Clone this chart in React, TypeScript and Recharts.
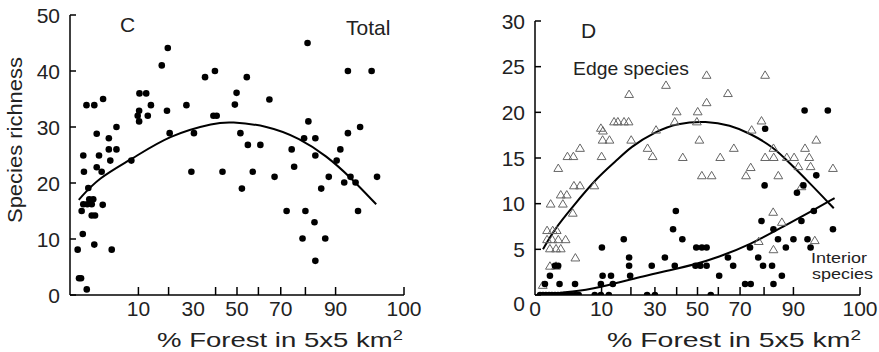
import React from "react";
import { ComposedChart, XAxis, YAxis, Scatter, Line } from "recharts";

// ---- data (x = % forest in 5x5 km2, y = species richness) ----
const totalPoints: [number, number][] = [
  [0.13, 8.1], [0.18, 3.0], [0.27, 3.0], [0.62, 1.0], [0.36, 10.9], [0.3, 15.0], [1.3, 9.0], [3.8, 8.1],
  [0.39, 16.2], [0.66, 16.2], [0.82, 17.1], [1.04, 16.2], [1.19, 17.1], [1.04, 14.2], [1.38, 14.2], [2.35, 16.1],
  [0.74, 19.1], [0.43, 22.0], [1.57, 22.8], [2.2, 22.0], [0.39, 24.9], [1.85, 24.9], [3.3, 26.0], [4.7, 26.0],
  [3.55, 24.0], [8.1, 24.0], [1.57, 28.8], [3.3, 28.0], [4.7, 30.0], [0.6, 33.9], [1.3, 33.9], [2.4, 35.0],
  [10.3, 36.0], [12.3, 36.0], [13.8, 33.9], [10.2, 32.9], [9.8, 32.0], [12.8, 32.0], [10.2, 31.0], [19.4, 32.9],
  [20.4, 28.9], [17.5, 41.0], [19.7, 44.1], [27.1, 33.9], [29.2, 22.0], [30.3, 28.9], [35.2, 38.9], [39.7, 40.0],
  [39.0, 32.0], [40.5, 32.0], [43.2, 22.0], [49.0, 34.0], [49.8, 36.1], [51.6, 28.9], [52.3, 19.0], [54.6, 38.9],
  [55.1, 26.8], [57.4, 22.0], [60.9, 26.8], [65.0, 34.9], [67.3, 21.1], [72.5, 15.0], [74.6, 26.0], [75.6, 22.9],
  [78.9, 10.1], [79.5, 28.0], [80.0, 15.0], [80.8, 45.0], [81.1, 31.0], [83.3, 13.0], [83.6, 28.0], [83.6, 24.9],
  [83.6, 6.1], [85.6, 19.0], [86.9, 10.1], [88.0, 21.1], [90.3, 24.0], [91.3, 26.0], [92.3, 20.1], [93.2, 28.9],
  [93.2, 40.0], [93.8, 21.1], [94.9, 20.1], [95.4, 15.0], [95.8, 30.0], [97.7, 40.0], [98.4, 21.1],
];
const totalCurve: [number, number][] = [
  [0.17, 17.0], [1.76, 20.9], [8.1, 24.2], [20.4, 28.6], [40.3, 30.8], [46.6, 30.9], [63.9, 30.3],
  [77.9, 28.0], [87.4, 24.8], [93.7, 21.1], [98.3, 16.2],
];

const edgePoints: [number, number][] = [
  [0.14, 1.1], [0.52, 3.2], [1.03, 3.2], [3.76, 4.1], [0.52, 5.1], [1.03, 5.1], [1.54, 5.1], [0.34, 6.1],
  [0.7, 6.1], [1.26, 6.1], [2.17, 6.1], [0.34, 7.1], [0.73, 7.1], [1.1, 7.1], [3.3, 9.0], [0.57, 10.0],
  [1.8, 10.0], [1.54, 11.0], [2.34, 11.0], [3.5, 12.0], [4.66, 12.0], [8.0, 12.0], [1.26, 13.9], [2.44, 15.2],
  [3.4, 15.2], [10.0, 15.2], [4.66, 16.1], [26.8, 16.1], [29.0, 15.2], [10.3, 17.0], [12.4, 17.0], [20.1, 17.0],
  [9.8, 18.3], [10.4, 18.0], [30.5, 18.1], [13.9, 19.0], [15.2, 19.0], [17.4, 19.0], [19.1, 19.0], [19.3, 22.0],
  [35.0, 23.0], [54.4, 24.1], [80.4, 24.1], [64.5, 22.1], [54.4, 21.1], [40.0, 20.1], [50.1, 20.1], [39.1, 19.0],
  [49.7, 19.0], [75.0, 18.1], [79.0, 19.1], [50.9, 17.0], [67.2, 16.1], [42.9, 15.1], [60.9, 15.1], [74.6, 14.0],
  [52.1, 13.1], [56.8, 13.1], [72.6, 13.1], [85.2, 13.1], [95.6, 17.0], [93.1, 16.1], [83.5, 16.1], [80.4, 15.1],
  [83.6, 15.1], [88.0, 15.1], [90.2, 15.1], [94.1, 15.1], [91.4, 14.1], [94.4, 14.1], [98.3, 13.9], [92.2, 11.9],
  [83.4, 9.1], [86.4, 8.0], [77.9, 5.9], [95.3, 6.0], [83.5, 5.0],
];
const edgeCurve: [number, number][] = [
  [0.15, 5.0], [0.93, 7.3], [3.2, 9.6], [8.8, 12.9], [15.1, 14.8], [19.7, 16.2], [30.5, 17.9], [40.0, 18.8],
  [54.4, 19.05], [65.5, 18.6], [74.3, 17.7], [83.5, 16.2], [89.0, 14.4], [93.5, 12.6], [98.4, 9.5],
];

const interiorPoints: [number, number][] = [
  [0.06, 0], [0.15, 0], [0.28, 0], [0.46, 0], [0.67, 0], [0.93, 0], [1.23, 0], [1.57, 0], [1.95, 0], [2.37, 0],
  [3.0, 0], [3.7, 0], [4.4, 0], [8.1, 0], [9.8, 0], [12.2, 0], [26.6, 0], [30.0, 0], [56.4, 0],
  [0.23, 1.2], [1.4, 1.2], [3.7, 1.2], [9.8, 1.2], [13.5, 1.2], [72.2, 1.2], [74.6, 1.2], [83.5, 1.2],
  [0.52, 2.1], [10.3, 2.1], [12.9, 2.1], [19.7, 2.1], [60.4, 2.1], [86.4, 2.1],
  [0.93, 3.2], [1.25, 3.2], [19.3, 3.2], [28.6, 3.2], [39.1, 3.2], [49.0, 3.2], [51.4, 3.2], [54.4, 3.2],
  [66.9, 3.2], [79.6, 3.2], [83.0, 3.2],
  [19.3, 4.1], [34.5, 4.1], [64.5, 4.1], [77.7, 4.1],
  [10.1, 5.2], [49.4, 5.2], [52.1, 5.2], [54.4, 5.2], [74.3, 5.2], [87.7, 5.2], [94.4, 5.2],
  [17.3, 6.1], [42.7, 6.1], [85.1, 6.1], [90.0, 6.1], [93.7, 6.1],
  [38.3, 7.2], [83.5, 7.2], [98.3, 7.2],
  [79.0, 8.1], [92.2, 8.1], [39.6, 9.2], [95.1, 9.2], [91.0, 11.2], [80.2, 12.0], [92.7, 12.0],
  [95.6, 13.1], [80.4, 18.2], [93.0, 20.2], [97.6, 20.2],
];
const interiorCurve: [number, number][] = [
  [0.1, 0.05], [4.66, 0.4], [12.6, 1.1], [25.5, 2.1], [36.6, 2.7], [49.5, 3.4], [59.5, 4.1], [74.3, 5.5],
  [86.9, 7.5], [94.3, 9.1], [98.5, 10.6],
];

const leftXTicks = [10, 20, 30, 40, 50, 60, 70, 80, 90, 100];
const leftXNoTickLine = [30];
const rightXTicks = [0, 10, 20, 30, 40, 50, 60, 70, 80, 90, 100];
const rightXNoTickLine = [0];
const xTickLabels = [0, 10, 30, 50, 70, 90, 100];
const leftYTicks = [0, 10, 20, 30, 40, 50];
const rightYTicks = [0, 5, 10, 15, 20, 25, 30];

// ---- arcsine-square-root axis transform ----
const toAxis = (p: number) => Math.asin(Math.sqrt(Math.max(0, Math.min(100, p)) / 100));
const fromAxis = (v: number) => Math.round(Math.pow(Math.sin(v), 2) * 100);
const rows = (pts: [number, number][]) => pts.map(([p, v]) => ({ x: toAxis(p), y: v }));
const HALF_PI = Math.PI / 2;

const FONT = "'Liberation Sans', Arial, sans-serif";
const TXT = "#222";

const makeXTick = (noLine: number[]) => (props: any) => {
  const { x, y, payload } = props;
  const pct = fromAxis(payload.value);
  return (
    <g>
      {!noLine.includes(pct) && <line x1={x} x2={x} y1={y} y2={y - 8} stroke="#000" strokeWidth={1.5} />}
      {xTickLabels.includes(pct) && (
        <text x={x} y={y + 21} textAnchor="middle" fontSize={21} fontFamily={FONT} fill={TXT}>
          {pct}
        </text>
      )}
    </g>
  );
};

const makeYTick = (zeroShift: number) => (props: any) => {
  const { x, y, payload } = props;
  const shift = payload.value === 0 ? zeroShift : 0;
  return (
    <g>
      <line x1={x} x2={x + 6} y1={y} y2={y} stroke="#000" strokeWidth={1.5} />
      <text x={x - 10} y={y + 7.5 + shift} textAnchor="end" fontSize={21} fontFamily={FONT} fill={TXT}>
        {payload.value}
      </text>
    </g>
  );
};

const dot = (p: any) => <circle cx={p.cx} cy={p.cy} r={3.3} fill="#000" />;
const tri = (p: any) => (
  <polygon
    points={`${p.cx},${p.cy - 4} ${p.cx - 4.4},${p.cy + 3.4} ${p.cx + 4.4},${p.cy + 3.4}`}
    fill="none"
    stroke="#666"
    strokeWidth={1}
  />
);

export default function App() {
  return (
    <div style={{ position: "absolute", left: 0, top: 0, width: 879, height: 352, background: "#fff" }}>
      <div style={{ position: "absolute", left: 0, top: 0 }}>
        <ComposedChart width={430} height={352} margin={{ top: 15, right: 26, bottom: 27, left: 30 }}>
          <XAxis
            type="number"
            dataKey="x"
            domain={[0, HALF_PI]}
            ticks={leftXTicks.map(toAxis)}
            interval={0}
            height={30}
            axisLine={{ stroke: "#000", strokeWidth: 1.5 }}
            tickLine={false}
            tickSize={0}
            tickMargin={0}
            tick={makeXTick(leftXNoTickLine)}
            allowDataOverflow
          />
          <YAxis
            type="number"
            domain={[0, 50]}
            ticks={leftYTicks}
            interval={0}
            width={40}
            axisLine={{ stroke: "#000", strokeWidth: 1.5 }}
            tickLine={false}
            tickSize={0}
            tickMargin={0}
            tick={makeYTick(0)}
            allowDataOverflow
          />
          <Scatter data={rows(totalPoints)} dataKey="y" shape={dot} isAnimationActive={false} />
          <Line data={rows(totalCurve)} dataKey="y" type="basis" stroke="#000" strokeWidth={2} dot={false} isAnimationActive={false} />
        </ComposedChart>
      </div>
      <div style={{ position: "absolute", left: 440, top: 0 }}>
        <ComposedChart width={439} height={352} margin={{ top: 21, right: 19, bottom: 27, left: 55 }}>
          <XAxis
            type="number"
            dataKey="x"
            domain={[0, HALF_PI]}
            ticks={rightXTicks.map(toAxis)}
            interval={0}
            height={30}
            axisLine={{ stroke: "#000", strokeWidth: 1.5 }}
            tickLine={false}
            tickSize={0}
            tickMargin={0}
            tick={makeXTick(rightXNoTickLine)}
            allowDataOverflow
          />
          <YAxis
            type="number"
            domain={[0, 30]}
            ticks={rightYTicks}
            interval={0}
            width={40}
            axisLine={{ stroke: "#000", strokeWidth: 1.5 }}
            tickLine={false}
            tickSize={0}
            tickMargin={0}
            tick={makeYTick(8)}
            allowDataOverflow
          />
          <Scatter data={rows(edgePoints)} dataKey="y" shape={tri} isAnimationActive={false} />
          <Scatter data={rows(interiorPoints)} dataKey="y" shape={dot} isAnimationActive={false} />
          <Line data={rows(edgeCurve)} dataKey="y" type="basis" stroke="#000" strokeWidth={2} dot={false} isAnimationActive={false} />
          <Line data={rows(interiorCurve)} dataKey="y" type="basis" stroke="#000" strokeWidth={2} dot={false} isAnimationActive={false} />
        </ComposedChart>
      </div>
      <svg
        width={879}
        height={352}
        style={{ position: "absolute", left: 0, top: 0, pointerEvents: "none" }}
        fontFamily={FONT}
        fill={TXT}
      >
        <text x={120} y={32} fontSize={21}>C</text>
        <text x={346} y={35} fontSize={21}>Total</text>
        <text x={581} y={38} fontSize={21}>D</text>
        <text x={573} y={75} fontSize={19} textLength={116} lengthAdjust="spacingAndGlyphs">Edge species</text>
        <text x={811} y={263} fontSize={14} textLength={56} lengthAdjust="spacingAndGlyphs">Interior</text>
        <text x={812} y={279} fontSize={14} textLength={61} lengthAdjust="spacingAndGlyphs">species</text>
        <text x={157} y={347} fontSize={21} textLength={246} lengthAdjust="spacingAndGlyphs">
          % Forest in 5x5 km<tspan dy={-7} fontSize={14}>2</tspan>
        </text>
        <text x={607} y={347} fontSize={21} textLength={254} lengthAdjust="spacingAndGlyphs">
          % Forest in 5x5 km<tspan dy={-7} fontSize={14}>2</tspan>
        </text>
        <text transform="translate(22,223) rotate(-90)" fontSize={21} textLength={166} lengthAdjust="spacingAndGlyphs">
          Species richness
        </text>
      </svg>
    </div>
  );
}
